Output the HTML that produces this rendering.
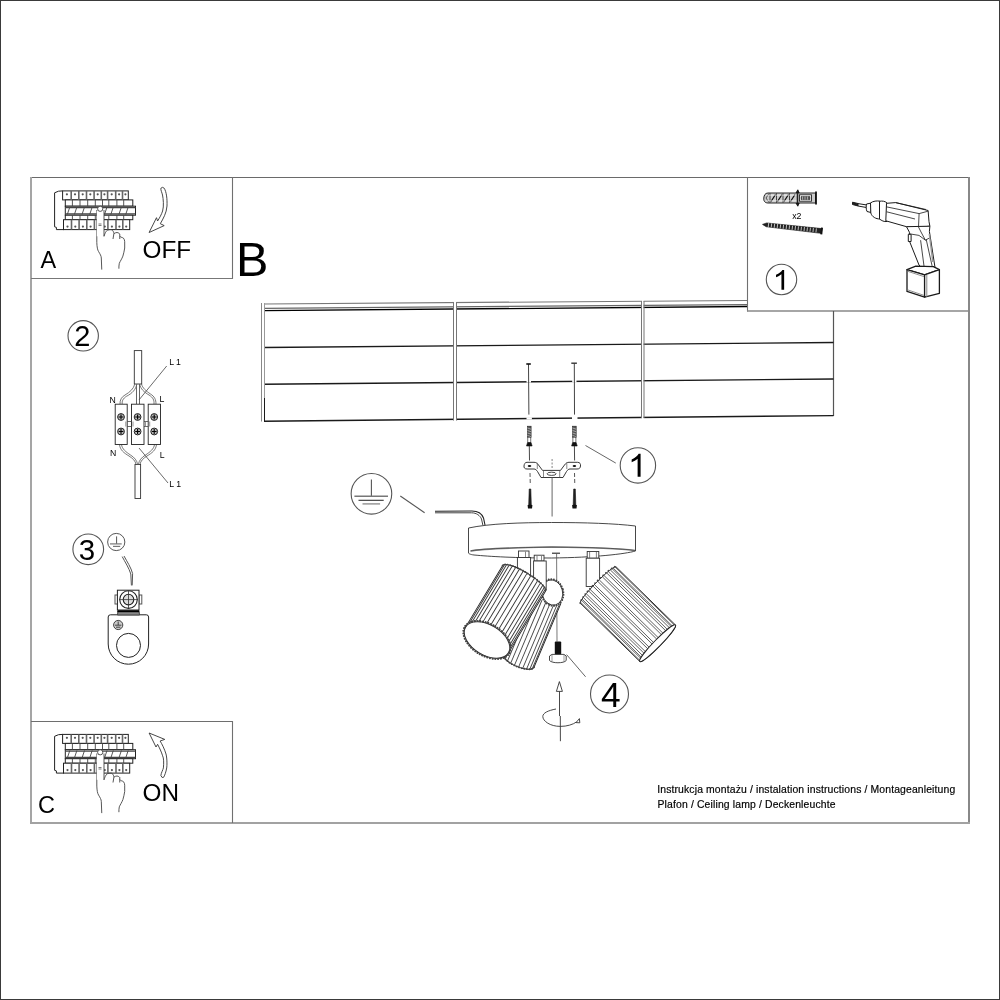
<!DOCTYPE html>
<html><head><meta charset="utf-8"><style>
html,body{margin:0;padding:0;background:#fff;width:1000px;height:1000px;overflow:hidden}
svg{position:absolute;left:0;top:0;display:block;filter:grayscale(1)}
text{font-family:"Liberation Sans",sans-serif;fill:#000}
</style></head><body>
<svg width="1000" height="1000" viewBox="0 0 1000 1000" fill="none" stroke-linecap="butt">
<!-- outer border -->
<rect x="0.5" y="0.5" width="999" height="999" stroke="#3a3a3a" stroke-width="1"/>
<!-- main frame -->
<line x1="30" y1="177.5" x2="970" y2="177.5" stroke="#6a6a6a" stroke-width="1.2"/>
<line x1="31" y1="177" x2="31" y2="824" stroke="#a5a5a5" stroke-width="2"/>
<line x1="969" y1="177" x2="969" y2="824" stroke="#888" stroke-width="2"/>
<line x1="30" y1="823" x2="970" y2="823" stroke="#a2a2a2" stroke-width="2"/>
<!-- panel A -->
<line x1="232.5" y1="177" x2="232.5" y2="279" stroke="#707070" stroke-width="1.1"/>
<line x1="31" y1="278.5" x2="233" y2="278.5" stroke="#777" stroke-width="1.1"/>
<!-- panel C -->
<line x1="31" y1="721.5" x2="233" y2="721.5" stroke="#6e6e6e" stroke-width="1.1"/>
<line x1="232.5" y1="721" x2="232.5" y2="823" stroke="#707070" stroke-width="1.1"/>
<!-- panel 1 -->
<line x1="747.5" y1="177" x2="747.5" y2="311.5" stroke="#707070" stroke-width="1.1"/>
<line x1="747" y1="311" x2="969" y2="311" stroke="#888" stroke-width="1.5"/>


<!-- ceiling -->
<g id="ceiling" stroke="#1a1a1a" stroke-width="1.4">
<line x1="264.5" y1="397" x2="264.5" y2="421.5" stroke-width="1"/>
<line x1="833.5" y1="311" x2="833.5" y2="416" stroke="#555" stroke-width="1.2"/>
<line x1="264" y1="304" x2="747" y2="300.5" stroke="#777" stroke-width="1.2"/>
<line x1="264" y1="308.3" x2="747" y2="304.6" stroke="#666" stroke-width="1.2"/>
<line x1="264" y1="310.6" x2="747" y2="306.5" stroke="#000" stroke-width="1.3"/>
<line x1="264" y1="347.5" x2="833.5" y2="342.5"/>
<line x1="264" y1="384.3" x2="833.5" y2="379"/>
<line x1="264" y1="421.2" x2="833.5" y2="415.6"/>

<rect x="454" y="299" width="2" height="123" fill="#fff" stroke="none"/><rect x="642" y="298" width="1.6" height="122" fill="#fff" stroke="none"/>
<line x1="261.5" y1="303" x2="261.5" y2="421.5" stroke="#888" stroke-width="1"/>
<line x1="264.5" y1="303" x2="264.5" y2="398" stroke="#999" stroke-width="1"/>
<line x1="453.5" y1="302" x2="453.5" y2="420.5" stroke="#777" stroke-width="1"/>
<line x1="456.5" y1="302" x2="456.5" y2="420.5" stroke="#777" stroke-width="1"/>
<line x1="641.5" y1="301" x2="641.5" y2="418" stroke="#777" stroke-width="1"/>
<line x1="644" y1="301" x2="644" y2="418" stroke="#777" stroke-width="1"/>
</g>
<g stroke="#fff" stroke-width="2.2">
<line x1="526.5" y1="381.5" x2="531" y2="381.5"/>
<line x1="526.5" y1="418.4" x2="531.9" y2="418.4"/>
<line x1="572.2" y1="381" x2="576.5" y2="381"/>
<line x1="572" y1="418" x2="577.5" y2="418"/>
</g>
<g id="holes" stroke="#444" stroke-width="1">
<line x1="528.5" y1="364" x2="528.9" y2="414.6"/>
<line x1="526.3" y1="364" x2="530.8" y2="364" stroke="#111" stroke-width="1.6"/>
<line x1="574.3" y1="363.3" x2="574.5" y2="414.6"/>
<line x1="571.3" y1="363.2" x2="576.9" y2="363.2" stroke="#333" stroke-width="1.4"/>
</g>



<!-- numbered circles -->
<g stroke="#555" stroke-width="1.1">
<circle cx="781.5" cy="279.5" r="15.2"/>
<circle cx="637.9" cy="465.45" r="17.7"/>
<circle cx="83.2" cy="335.8" r="15.2"/>
<circle cx="88.25" cy="549.3" r="15.35"/>
<circle cx="609.5" cy="694" r="19"/>
</g>
<g font-size="28.7" text-anchor="middle">
<text x="82.2" y="346.2" font-size="29">2</text>
<text x="86.9" y="560.4" font-size="29.5">3</text>
<text x="610.7" y="706.9" font-size="35.3">4</text>
</g>
<path d="M763,0 L583,0 L583,1147 Q518,1085 412,1023 Q306,961 222,930 L222,1104 Q373,1175 486,1276 Q599,1377 646,1472 L763,1472 Z" fill="#000" transform="translate(772.7,289.7) scale(0.0150,-0.01345)"/>
<path d="M763,0 L583,0 L583,1147 Q518,1085 412,1023 Q306,961 222,930 L222,1104 Q373,1175 486,1276 Q599,1377 646,1472 L763,1472 Z" fill="#000" transform="translate(628.0,476.85) scale(0.0165,-0.01569)"/>
<!-- ground symbol big -->
<g stroke="#555" stroke-width="1.1">
<circle cx="371.45" cy="493.8" r="20.3"/>
<line x1="371.4" y1="479.4" x2="371.4" y2="496"/>
<line x1="354.4" y1="496.2" x2="388" y2="496.2" stroke-width="1.4" stroke="#777"/>
<line x1="358.5" y1="500.3" x2="383.7" y2="500.3" stroke="#333"/>
<line x1="362.5" y1="503.9" x2="380.1" y2="503.9" stroke="#888" stroke-width="1.3"/>
<line x1="400.3" y1="496" x2="424.6" y2="512.7"/>
</g>
<!-- ground symbol small -->
<g stroke="#555" stroke-width="1">
<circle cx="116.25" cy="542" r="8.6"/>
<line x1="116.6" y1="536.4" x2="116.6" y2="543.9"/>
<line x1="110" y1="543.9" x2="121.7" y2="543.9" stroke="#777" stroke-width="1.2"/>
<line x1="113" y1="546.4" x2="120.2" y2="546.4" stroke="#777" stroke-width="1.2"/>
</g>


<!-- panel A drawing -->
<g id="panelA">
<g id="brk" stroke="#222" stroke-width="1" fill="#fff">
<path d="M62.6,190.9 L58.5,191.2 L54.6,192.8 L54.6,226.8 L56.4,227.4 L56.4,229.6 L64,229.6"/>
<rect x="62.6" y="190.9" width="65.7" height="9"/>
<rect x="65.3" y="199.9" width="67.5" height="6.3"/>
<rect x="65.3" y="206.2" width="70.2" height="9"/>
<rect x="65.3" y="215.2" width="67.5" height="4.5"/>
<rect x="63.5" y="219.7" width="66.2" height="9.9"/>
</g>
<g stroke="#444" stroke-width="0.9">
<line x1="71.2" y1="190.9" x2="71.2" y2="199.9" stroke="#666" stroke-width="1.6"/>
<line x1="72.4" y1="199.9" x2="72.4" y2="206.2"/>
<line x1="72.4" y1="215.2" x2="72.4" y2="219.7"/>
<line x1="71.5" y1="219.7" x2="71.5" y2="229.6" stroke="#666" stroke-width="1.6"/>
<line x1="78.8" y1="190.9" x2="78.8" y2="199.9" stroke="#666" stroke-width="1.6"/>
<line x1="80.0" y1="199.9" x2="80.0" y2="206.2"/>
<line x1="80.0" y1="215.2" x2="80.0" y2="219.7"/>
<line x1="79.1" y1="219.7" x2="79.1" y2="229.6" stroke="#666" stroke-width="1.6"/>
<line x1="86.5" y1="190.9" x2="86.5" y2="199.9" stroke="#666" stroke-width="1.6"/>
<line x1="87.7" y1="199.9" x2="87.7" y2="206.2"/>
<line x1="87.7" y1="215.2" x2="87.7" y2="219.7"/>
<line x1="86.8" y1="219.7" x2="86.8" y2="229.6" stroke="#666" stroke-width="1.6"/>
<line x1="94.1" y1="190.9" x2="94.1" y2="199.9" stroke="#666" stroke-width="1.6"/>
<line x1="95.3" y1="199.9" x2="95.3" y2="206.2"/>
<line x1="95.3" y1="215.2" x2="95.3" y2="219.7"/>
<line x1="94.39999999999999" y1="219.7" x2="94.39999999999999" y2="229.6" stroke="#666" stroke-width="1.6"/>
<line x1="101.3" y1="190.9" x2="101.3" y2="199.9" stroke="#666" stroke-width="1.6"/>
<line x1="102.5" y1="199.9" x2="102.5" y2="206.2"/>
<line x1="102.5" y1="215.2" x2="102.5" y2="219.7"/>
<line x1="101.6" y1="219.7" x2="101.6" y2="229.6" stroke="#666" stroke-width="1.6"/>
<line x1="107.6" y1="190.9" x2="107.6" y2="199.9" stroke="#666" stroke-width="1.6"/>
<line x1="108.8" y1="199.9" x2="108.8" y2="206.2"/>
<line x1="108.8" y1="215.2" x2="108.8" y2="219.7"/>
<line x1="107.89999999999999" y1="219.7" x2="107.89999999999999" y2="229.6" stroke="#666" stroke-width="1.6"/>
<line x1="115.7" y1="190.9" x2="115.7" y2="199.9" stroke="#666" stroke-width="1.6"/>
<line x1="116.9" y1="199.9" x2="116.9" y2="206.2"/>
<line x1="116.9" y1="215.2" x2="116.9" y2="219.7"/>
<line x1="116.0" y1="219.7" x2="116.0" y2="229.6" stroke="#666" stroke-width="1.6"/>
<line x1="122.5" y1="190.9" x2="122.5" y2="199.9" stroke="#666" stroke-width="1.6"/>
<line x1="123.7" y1="199.9" x2="123.7" y2="206.2"/>
<line x1="123.7" y1="215.2" x2="123.7" y2="219.7"/>
<line x1="122.8" y1="219.7" x2="122.8" y2="229.6" stroke="#666" stroke-width="1.6"/>
<line x1="67.3" y1="214.5" x2="69.8" y2="207"/>
<line x1="74.4" y1="214.5" x2="76.9" y2="207"/>
<line x1="82.0" y1="214.5" x2="84.5" y2="207"/>
<line x1="89.7" y1="214.5" x2="92.2" y2="207"/>
<line x1="97.3" y1="214.5" x2="99.8" y2="207"/>
<line x1="104.5" y1="214.5" x2="107.0" y2="207"/>
<line x1="110.8" y1="214.5" x2="113.3" y2="207"/>
<line x1="118.9" y1="214.5" x2="121.4" y2="207"/>
<line x1="125.7" y1="214.5" x2="128.2" y2="207"/>
<line x1="65.3" y1="207.6" x2="135.5" y2="207.6" stroke="#444" stroke-width="1.3"/>
<line x1="65.3" y1="213.8" x2="135.5" y2="213.8" stroke="#444" stroke-width="1.3"/>
<circle cx="66.9" cy="194.3" r="1.1" fill="#555" stroke="none"/>
<circle cx="75.0" cy="194.3" r="1.1" fill="#555" stroke="none"/>
<circle cx="82.7" cy="194.3" r="1.1" fill="#555" stroke="none"/>
<circle cx="90.3" cy="194.3" r="1.1" fill="#555" stroke="none"/>
<circle cx="97.7" cy="194.3" r="1.1" fill="#555" stroke="none"/>
<circle cx="104.4" cy="194.3" r="1.1" fill="#555" stroke="none"/>
<circle cx="111.7" cy="194.3" r="1.1" fill="#555" stroke="none"/>
<circle cx="119.1" cy="194.3" r="1.1" fill="#555" stroke="none"/>
<circle cx="125.4" cy="194.3" r="1.1" fill="#555" stroke="none"/>
<circle cx="67.5" cy="226.6" r="1.1" fill="#555" stroke="none"/>
<circle cx="75.3" cy="226.6" r="1.1" fill="#555" stroke="none"/>
<circle cx="82.9" cy="226.6" r="1.1" fill="#555" stroke="none"/>
<circle cx="90.6" cy="226.6" r="1.1" fill="#555" stroke="none"/>
<circle cx="98.0" cy="226.6" r="1.1" fill="#555" stroke="none"/>
<circle cx="104.8" cy="226.6" r="1.1" fill="#555" stroke="none"/>
<circle cx="111.9" cy="226.6" r="1.1" fill="#555" stroke="none"/>
<circle cx="119.4" cy="226.6" r="1.1" fill="#555" stroke="none"/>
<circle cx="126.2" cy="226.6" r="1.1" fill="#555" stroke="none"/>
</g>
<g id="hand" stroke="#444" stroke-width="0.9" fill="#fff">
<path d="M96.8,210 L96.8,242.6 C97,247 97.5,250 98.6,251.6 C100,254 101.3,256 101.3,258 L101.75,269.6" fill="none"/>
<path d="M96.8,211 L104,211 L104,236.3 L96.8,236.3 Z" stroke="none"/>
<path d="M104,210 L104,236.3 C104.5,234.5 105.4,232.7 105.4,232.7 C106.3,231 107,230.3 108,230 C109.5,229.5 110.5,229.6 111.2,229.6 C112.2,230 113,230.9 113,230.9 C113.6,231.8 113.9,233.6 113.9,233.6 L113,239 M113.9,233.6 C115,233 116,232.5 117,232.5 C118.5,232.8 119.3,233.3 119.75,234 L119.75,239 M119.75,236 C120.5,237 121.1,237.2 121.1,237.2 C122,237.5 122.8,237.6 123.4,238.1 C124.3,239 124.7,240.5 124.7,241.7 L124.7,248 C124.3,251 123.6,253.5 122.9,256.1 C121.8,259 120.3,261 119.3,263.3 C118.9,265 118.9,267 118.9,268.7" fill="none"/>
<circle cx="100.2" cy="208.8" r="2.6"/>
<line x1="98.5" y1="224" x2="101.5" y2="224" stroke-width="0.7"/>
<line x1="98.5" y1="225.5" x2="101.5" y2="225.5" stroke-width="0.7"/>
</g>
</g>
<g transform="translate(0,543.5)">
<g stroke="#222" stroke-width="1" fill="#fff">
<path d="M62.6,190.9 L58.5,191.2 L54.6,192.8 L54.6,226.8 L56.4,227.4 L56.4,229.6 L64,229.6"/>
<rect x="62.6" y="190.9" width="65.7" height="9"/>
<rect x="65.3" y="199.9" width="67.5" height="6.3"/>
<rect x="65.3" y="206.2" width="70.2" height="9"/>
<rect x="65.3" y="215.2" width="67.5" height="4.5"/>
<rect x="63.5" y="219.7" width="66.2" height="9.9"/>
</g>
<g stroke="#444" stroke-width="0.9">
<line x1="71.2" y1="190.9" x2="71.2" y2="199.9" stroke="#666" stroke-width="1.6"/>
<line x1="72.4" y1="199.9" x2="72.4" y2="206.2"/>
<line x1="72.4" y1="215.2" x2="72.4" y2="219.7"/>
<line x1="71.5" y1="219.7" x2="71.5" y2="229.6" stroke="#666" stroke-width="1.6"/>
<line x1="78.8" y1="190.9" x2="78.8" y2="199.9" stroke="#666" stroke-width="1.6"/>
<line x1="80.0" y1="199.9" x2="80.0" y2="206.2"/>
<line x1="80.0" y1="215.2" x2="80.0" y2="219.7"/>
<line x1="79.1" y1="219.7" x2="79.1" y2="229.6" stroke="#666" stroke-width="1.6"/>
<line x1="86.5" y1="190.9" x2="86.5" y2="199.9" stroke="#666" stroke-width="1.6"/>
<line x1="87.7" y1="199.9" x2="87.7" y2="206.2"/>
<line x1="87.7" y1="215.2" x2="87.7" y2="219.7"/>
<line x1="86.8" y1="219.7" x2="86.8" y2="229.6" stroke="#666" stroke-width="1.6"/>
<line x1="94.1" y1="190.9" x2="94.1" y2="199.9" stroke="#666" stroke-width="1.6"/>
<line x1="95.3" y1="199.9" x2="95.3" y2="206.2"/>
<line x1="95.3" y1="215.2" x2="95.3" y2="219.7"/>
<line x1="94.39999999999999" y1="219.7" x2="94.39999999999999" y2="229.6" stroke="#666" stroke-width="1.6"/>
<line x1="101.3" y1="190.9" x2="101.3" y2="199.9" stroke="#666" stroke-width="1.6"/>
<line x1="102.5" y1="199.9" x2="102.5" y2="206.2"/>
<line x1="102.5" y1="215.2" x2="102.5" y2="219.7"/>
<line x1="101.6" y1="219.7" x2="101.6" y2="229.6" stroke="#666" stroke-width="1.6"/>
<line x1="107.6" y1="190.9" x2="107.6" y2="199.9" stroke="#666" stroke-width="1.6"/>
<line x1="108.8" y1="199.9" x2="108.8" y2="206.2"/>
<line x1="108.8" y1="215.2" x2="108.8" y2="219.7"/>
<line x1="107.89999999999999" y1="219.7" x2="107.89999999999999" y2="229.6" stroke="#666" stroke-width="1.6"/>
<line x1="115.7" y1="190.9" x2="115.7" y2="199.9" stroke="#666" stroke-width="1.6"/>
<line x1="116.9" y1="199.9" x2="116.9" y2="206.2"/>
<line x1="116.9" y1="215.2" x2="116.9" y2="219.7"/>
<line x1="116.0" y1="219.7" x2="116.0" y2="229.6" stroke="#666" stroke-width="1.6"/>
<line x1="122.5" y1="190.9" x2="122.5" y2="199.9" stroke="#666" stroke-width="1.6"/>
<line x1="123.7" y1="199.9" x2="123.7" y2="206.2"/>
<line x1="123.7" y1="215.2" x2="123.7" y2="219.7"/>
<line x1="122.8" y1="219.7" x2="122.8" y2="229.6" stroke="#666" stroke-width="1.6"/>
<line x1="67.3" y1="214.5" x2="69.8" y2="207"/>
<line x1="74.4" y1="214.5" x2="76.9" y2="207"/>
<line x1="82.0" y1="214.5" x2="84.5" y2="207"/>
<line x1="89.7" y1="214.5" x2="92.2" y2="207"/>
<line x1="97.3" y1="214.5" x2="99.8" y2="207"/>
<line x1="104.5" y1="214.5" x2="107.0" y2="207"/>
<line x1="110.8" y1="214.5" x2="113.3" y2="207"/>
<line x1="118.9" y1="214.5" x2="121.4" y2="207"/>
<line x1="125.7" y1="214.5" x2="128.2" y2="207"/>
<line x1="65.3" y1="207.6" x2="135.5" y2="207.6" stroke="#444" stroke-width="1.3"/>
<line x1="65.3" y1="213.8" x2="135.5" y2="213.8" stroke="#444" stroke-width="1.3"/>
<circle cx="66.9" cy="194.3" r="1.1" fill="#555" stroke="none"/>
<circle cx="75.0" cy="194.3" r="1.1" fill="#555" stroke="none"/>
<circle cx="82.7" cy="194.3" r="1.1" fill="#555" stroke="none"/>
<circle cx="90.3" cy="194.3" r="1.1" fill="#555" stroke="none"/>
<circle cx="97.7" cy="194.3" r="1.1" fill="#555" stroke="none"/>
<circle cx="104.4" cy="194.3" r="1.1" fill="#555" stroke="none"/>
<circle cx="111.7" cy="194.3" r="1.1" fill="#555" stroke="none"/>
<circle cx="119.1" cy="194.3" r="1.1" fill="#555" stroke="none"/>
<circle cx="125.4" cy="194.3" r="1.1" fill="#555" stroke="none"/>
<circle cx="67.5" cy="226.6" r="1.1" fill="#555" stroke="none"/>
<circle cx="75.3" cy="226.6" r="1.1" fill="#555" stroke="none"/>
<circle cx="82.9" cy="226.6" r="1.1" fill="#555" stroke="none"/>
<circle cx="90.6" cy="226.6" r="1.1" fill="#555" stroke="none"/>
<circle cx="98.0" cy="226.6" r="1.1" fill="#555" stroke="none"/>
<circle cx="104.8" cy="226.6" r="1.1" fill="#555" stroke="none"/>
<circle cx="111.9" cy="226.6" r="1.1" fill="#555" stroke="none"/>
<circle cx="119.4" cy="226.6" r="1.1" fill="#555" stroke="none"/>
<circle cx="126.2" cy="226.6" r="1.1" fill="#555" stroke="none"/>
</g>
<g stroke="#444" stroke-width="0.9" fill="#fff">
<path d="M96.8,210 L96.8,242.6 C97,247 97.5,250 98.6,251.6 C100,254 101.3,256 101.3,258 L101.75,269.6" fill="none"/>
<path d="M96.8,211 L104,211 L104,236.3 L96.8,236.3 Z" stroke="none"/>
<path d="M104,210 L104,236.3 C104.5,234.5 105.4,232.7 105.4,232.7 C106.3,231 107,230.3 108,230 C109.5,229.5 110.5,229.6 111.2,229.6 C112.2,230 113,230.9 113,230.9 C113.6,231.8 113.9,233.6 113.9,233.6 L113,239 M113.9,233.6 C115,233 116,232.5 117,232.5 C118.5,232.8 119.3,233.3 119.75,234 L119.75,239 M119.75,236 C120.5,237 121.1,237.2 121.1,237.2 C122,237.5 122.8,237.6 123.4,238.1 C124.3,239 124.7,240.5 124.7,241.7 L124.7,248 C124.3,251 123.6,253.5 122.9,256.1 C121.8,259 120.3,261 119.3,263.3 C118.9,265 118.9,267 118.9,268.7" fill="none"/>
<circle cx="100.2" cy="208.8" r="2.6"/>
<line x1="98.5" y1="224" x2="101.5" y2="224" stroke-width="0.7"/>
<line x1="98.5" y1="225.5" x2="101.5" y2="225.5" stroke-width="0.7"/>
</g>
</g>
<path d="M160.9,188.2 Q162.5,186.5 164.2,188.2 C166.5,192 167.3,199 167,206 C166.6,213 163,219 160.3,223.7 L164.2,225.6 L149.1,232.5 L156.5,217.7 L157.6,221 C159.5,218 161.5,214.5 162.6,211 C164,206 163.3,199 162.5,195 C162,192.5 160.5,190 160.9,188.2 Z" stroke="#333" stroke-width="0.9"/>
<path d="M149.1,733 L164.75,739.4 L160.1,741 C162,744 164.5,749 166,754 C167.3,759 167,766 166.7,768 C166,772 164.5,776 163.6,777.3 Q162,778.5 160.9,775.6 C161,773 163,770 163.4,767.9 C163.9,763 163.8,758 162.6,755.8 C161.5,752 159.5,748 157.6,744.3 L156,747 Z" stroke="#333" stroke-width="0.9"/>


<!-- step 2 wiring -->
<g id="step2" stroke="#333" stroke-width="0.9">
<rect x="134.3" y="350.6" width="7.4" height="33.4" fill="#fff"/>
<rect x="135" y="464.5" width="5.6" height="34" fill="#fff"/>
<!-- upper wires (double) -->
<g stroke="#555" stroke-width="0.8">
<path d="M134.8,384 C133.5,389 130,392 125,395 C121.5,397 119.8,400 120,404.2"/>
<path d="M136.8,384 C136,389.5 132,393.5 126.5,396.3 C123,398.5 121.8,401 122.2,404.2"/>
<path d="M136.5,384 L136.5,404.2 M139.5,384 L139.5,404.2" stroke="#666" stroke-width="1"/>
<path d="M139.7,384 C140.5,389 144,392 149,395 C153,397.5 154.3,400 154,404.2"/>
<path d="M141.5,384 C142.5,388 146,391 150.5,394 C154.5,396.5 156,399.5 156,404.2"/>
<!-- lower wires -->
<path d="M119.5,444.5 C120,450 124,453 129,456 C133,458.5 135.5,461 136,464.5"/>
<path d="M121.5,444.5 C122,449 126,452 130.5,455 C134.5,457.5 137,460.5 137.6,464.5"/>
<path d="M156.5,444.5 C156,450 152,453 147,456 C143,458.5 140.5,461 140,464.5"/>
<path d="M154.5,444.5 C154,449 150,452 145.5,455 C141.5,457.5 139,460.5 138.4,464.5"/>
</g>
<g fill="#fff" stroke="#222" stroke-width="0.9">
<rect x="115.2" y="404.2" width="12" height="40.3"/>
<rect x="131.5" y="404.2" width="12.5" height="40.3"/>
<rect x="148.2" y="404.2" width="12.3" height="40.3"/>
</g>
<g stroke="#444" stroke-width="0.8" fill="#fff">
<path d="M127.2,421.5 L131.5,421.5 M127.2,426.5 L131.5,426.5 M144,421.5 L148.2,421.5 M144,426.5 L148.2,426.5"/>
<path d="M125.8,421.5 L125.8,426.5 M133,421.5 L133,426.5 M145.5,421.5 L145.5,426.5 M149.7,421.5 L149.7,426.5" stroke="#777"/>
</g>
<g fill="#bbb" stroke="#222" stroke-width="1">
<circle cx="121" cy="417" r="3.4"/><circle cx="121" cy="431.5" r="3.4"/>
<circle cx="137.6" cy="417" r="3.4"/><circle cx="137.6" cy="431.5" r="3.4"/>
<circle cx="154.2" cy="417" r="3.4"/><circle cx="154.2" cy="431.5" r="3.4"/>
</g>
<g stroke="#000" stroke-width="1.1">
<path d="M118.6,417 h4.8 M121,414.6 v4.8 M118.6,431.5 h4.8 M121,429.1 v4.8"/>
<path d="M135.2,417 h4.8 M137.6,414.6 v4.8 M135.2,431.5 h4.8 M137.6,429.1 v4.8"/>
<path d="M151.8,417 h4.8 M154.2,414.6 v4.8 M151.8,431.5 h4.8 M154.2,429.1 v4.8"/>
</g>
<line x1="166.7" y1="366" x2="139.1" y2="399.8" stroke="#444" stroke-width="0.8"/>
<line x1="139" y1="448" x2="168" y2="483" stroke="#444" stroke-width="0.8"/>
</g>
<g font-size="8.7" fill="#222">
<text x="109.6" y="403">N</text>
<text x="159.5" y="401.5">L</text>
<text x="169.2" y="364.6">L 1</text>
<text x="109.9" y="455.8">N</text>
<text x="159.7" y="457.6">L</text>
<text x="169.3" y="486.7">L 1</text>
</g>
<!-- step 3 lug -->
<g id="step3" stroke="#222" stroke-width="1">
<path d="M122.2,556.6 C125,562 129,568 130.8,574 L131.4,585.4" stroke="#555"/>
<path d="M124,556 C127,561.5 131,567.5 132.6,573.5 L132.2,585.4" stroke="#555"/>
<path d="M110.5,614.8 L146.3,614.8 Q148.6,614.8 148.6,617 L148.6,644 A20.2,20.2 0 0 1 108.2,644 L108.2,617 Q108.2,614.8 110.5,614.8 Z" fill="#fff"/>
<circle cx="128.5" cy="645.4" r="12" fill="#fff"/>
<path d="M118,610.6 L139,610.6 L139.5,615 L117.5,615 Z" fill="#888" stroke="#444"/>
<line x1="117.4" y1="611.3" x2="139" y2="611.3" stroke="#000" stroke-width="1.8"/>
<rect x="115" y="595" width="2.6" height="9" fill="#fff" stroke="#555"/>
<rect x="139" y="595" width="2.8" height="9" fill="#fff" stroke="#555"/>
<rect x="117.4" y="590.2" width="21.6" height="19.8" fill="#fff"/>
<circle cx="128.5" cy="599.6" r="8.8" fill="#fff" stroke="#222" stroke-width="1.1"/>
<circle cx="128.5" cy="599.6" r="5.3" fill="#ddd" stroke="#222" stroke-width="1.1"/>
<path d="M128.5,590.5 V608.5 M119.2,599.6 H137.8" stroke="#333" stroke-width="0.8"/>
<circle cx="118.2" cy="625" r="4.6" fill="#ccc" stroke="#444"/>
<path d="M118.2,621.5 V625 M115,625.2 H121.4 M116,627.2 H120.4" stroke="#222" stroke-width="0.8"/>
</g>


<!-- plugs, bracket, screws -->
<g>
<rect x="527.5" y="426.2" width="3.6" height="11" fill="#555" stroke="#222" stroke-width="0.6"/>
<path d="M527.5,428 l3.6,1.2 M527.5,430.5 l3.6,1.2 M527.5,433 l3.6,1.2 M527.5,435.5 l3.6,1.2" stroke="#ddd" stroke-width="0.6"/>
<rect x="527.8" y="437.2" width="3" height="5.5" fill="#fff" stroke="#333" stroke-width="0.7"/>
<path d="M527.5,442.7 L531.0999999999999,442.7 L532.0999999999999,446 L526.5,446 Z" fill="#111" stroke="#111" stroke-width="0.6"/>
<line x1="529.3" y1="446" x2="529.5" y2="460.5" stroke="#333" stroke-width="0.9"/>
</g><g>
<rect x="572.6" y="426.2" width="3.6" height="11" fill="#555" stroke="#222" stroke-width="0.6"/>
<path d="M572.6,428 l3.6,1.2 M572.6,430.5 l3.6,1.2 M572.6,433 l3.6,1.2 M572.6,435.5 l3.6,1.2" stroke="#ddd" stroke-width="0.6"/>
<rect x="572.9" y="437.2" width="3" height="5.5" fill="#fff" stroke="#333" stroke-width="0.7"/>
<path d="M572.6,442.7 L576.1999999999999,442.7 L577.1999999999999,446 L571.6,446 Z" fill="#111" stroke="#111" stroke-width="0.6"/>
<line x1="574.4" y1="446" x2="574.6" y2="460.5" stroke="#333" stroke-width="0.9"/>
</g>
<g stroke="#222" stroke-width="0.9" fill="#fff">
<path d="M527,462.3 L534,462.3 C536,462.3 537,463 538.5,465 L542.5,470.4 L560.5,470.4 L564.5,465 C566,463 567,462.3 569,462.3 L577.5,462.3 C580,462.3 580.8,464 580.5,466 C580.2,468 579.5,469 577,469 L570,469 C568.5,469 567.5,470 566.5,471.5 L563,477.5 L541,477.5 L537.5,471.5 C536.5,470 535.5,469 534,469 L527,469 C524.5,469 523.8,467.5 524,466 C524.2,464 525,462.3 527,462.3 Z"/>
<path d="M537.3,462.8 L537.3,469 M566.8,462.8 L566.8,469 M543.5,470.4 L543.5,477.5 M559.7,470.4 L559.7,477.5" stroke="#555" stroke-width="0.7"/>
<ellipse cx="551.6" cy="473.8" rx="4.5" ry="1.6" fill="#fff" stroke="#333"/>
<ellipse cx="529.5" cy="466" rx="1.8" ry="0.9" fill="#111" stroke="none"/>
<ellipse cx="574.4" cy="466" rx="1.8" ry="0.9" fill="#111" stroke="none"/>
</g>
<g>
<line x1="530" y1="473" x2="530.3" y2="485" stroke="#444" stroke-width="0.9" stroke-dasharray="4,2"/>
<path d="M529.2,489 L530.8,489 L531.3,505 L528.7,505 Z" fill="#222" stroke="#111" stroke-width="0.6"/>
<path d="M527.6,505 L532.4,505 L532,508.4 L528,508.4 Z" fill="#111"/>
</g><g>
<line x1="574.5" y1="473" x2="574.8" y2="485" stroke="#444" stroke-width="0.9" stroke-dasharray="4,2"/>
<path d="M573.7,489 L575.3,489 L575.8,505 L573.2,505 Z" fill="#222" stroke="#111" stroke-width="0.6"/>
<path d="M572.1,505 L576.9,505 L576.5,508.4 L572.5,508.4 Z" fill="#111"/>
</g>
<line x1="552.1" y1="459" x2="552.1" y2="468" stroke="#666" stroke-width="0.8" stroke-dasharray="2,1.5"/>
<line x1="552.1" y1="477.5" x2="552.1" y2="516.5" stroke="#555" stroke-width="0.9"/>
<line x1="585.5" y1="445.5" x2="615.8" y2="463.1" stroke="#555" stroke-width="0.9"/>

<!-- LAMP -->
<path d="M435,511.2 L472,511 C478,511 482,514 483.5,518 L485,525" stroke="#222" stroke-width="1.1" fill="none"/>
<path d="M435,512.8 L471.5,512.8 C476.5,512.8 480,515.5 481.5,519 L482.9,525.3" stroke="#444" stroke-width="1" fill="none"/>
<g stroke="#333" stroke-width="0.9" fill="#fff">
<path d="M468.5,528 C490,523.5 520,522.6 551.5,522.5 C585,522.5 615,523.5 635.5,526 L635.5,551 C625,554 595,557.5 551.5,558 C515,558 490,556.5 474,555 C470,554.5 468.5,553.5 468.5,553 Z"/>
<path d="M470.5,551 C480,549 500,548 551.5,547 C600,547.5 620,548.5 635,550.5" fill="none" stroke="#888" stroke-width="1.6"/>
<path d="M470.5,551 C480,549 500,548 551.5,547 C600,547.5 620,548.5 635,550.5" fill="none" stroke="#333" stroke-width="0.6"/>
</g>
<line x1="552" y1="553.2" x2="560" y2="553.2" stroke="#222" stroke-width="1.1"/>
<line x1="556.6" y1="553.2" x2="557" y2="641.5" stroke="#555" stroke-width="0.8"/>
<g stroke="#333" stroke-width="0.9" fill="#fff">
<rect x="518.5" y="551" width="10.5" height="6.5"/>
<line x1="525.5" y1="551.5" x2="525.5" y2="557.5" stroke="#777"/>
<rect x="517.4" y="557.5" width="13.2" height="20"/>
</g>
<g transform="translate(518.8,660.8) rotate(-67.12993673176197)">
<path d="M0,-16.5 L68.7006550187114,-16.5 A4,16.5 0 0 1 68.7006550187114,16.5 L0,16.5 A6,16.5 0 0 1 0,-16.5 Z" fill="#fff" stroke="#222" stroke-width="0.9"/>
<line x1="-2.05" y1="-15.50" x2="67.33" y2="-15.50" stroke="#444" stroke-width="0.9"/>
<line x1="-3.49" y1="-13.42" x2="66.37" y2="-13.42" stroke="#444" stroke-width="0.9"/>
<line x1="-4.67" y1="-10.36" x2="65.59" y2="-10.36" stroke="#444" stroke-width="0.9"/>
<line x1="-5.51" y1="-6.54" x2="65.03" y2="-6.54" stroke="#444" stroke-width="0.9"/>
<line x1="-5.94" y1="-2.23" x2="64.74" y2="-2.23" stroke="#444" stroke-width="0.9"/>
<line x1="-5.94" y1="2.23" x2="64.74" y2="2.23" stroke="#444" stroke-width="0.9"/>
<line x1="-5.51" y1="6.54" x2="65.03" y2="6.54" stroke="#444" stroke-width="0.9"/>
<line x1="-4.67" y1="10.36" x2="65.59" y2="10.36" stroke="#444" stroke-width="0.9"/>
<line x1="-3.49" y1="13.42" x2="66.37" y2="13.42" stroke="#444" stroke-width="0.9"/>
<line x1="-2.05" y1="15.50" x2="67.33" y2="15.50" stroke="#444" stroke-width="0.9"/>
</g>
<g transform="translate(518.8,660.8) rotate(-67.13)"><path d="M0,16.5 A6,16.5 0 0 1 0,-16.5" fill="none" stroke="#444" stroke-width="1.9" stroke-linecap="round" stroke-dasharray="0.01,2.6"/></g>
<ellipse cx="552.3" cy="592.5" rx="10.3" ry="12.8" transform="rotate(-15 552.3 592.5)" fill="#fff" stroke="#333" stroke-width="0.9"/>
<ellipse cx="552.3" cy="592.5" rx="11" ry="13.5" transform="rotate(-15 552.3 592.5)" fill="none" stroke="#444" stroke-width="2" stroke-linecap="round" stroke-dasharray="0.01,2.6"/>
<g stroke="#333" stroke-width="0.9" fill="#fff">
<rect x="534.2" y="555.2" width="9.8" height="5.8"/>
<line x1="537" y1="555.5" x2="537" y2="561" stroke="#777"/>
<line x1="541.5" y1="555.5" x2="541.5" y2="561" stroke="#777"/>
<rect x="533.6" y="561" width="12.6" height="28.8"/>
</g>
<g transform="translate(487,640) rotate(-59)">
<path d="M0,-25 L72,-25 A6,25 0 0 1 72,25 L0,25 A15,25 0 0 1 0,-25 Z" fill="#fff" stroke="#222" stroke-width="0.9"/>
<line x1="4.64" y1="-23.78" x2="73.85" y2="-23.78" stroke="#333" stroke-width="0.9"/>
<line x1="7.11" y1="-22.01" x2="74.84" y2="-22.01" stroke="#333" stroke-width="0.9"/>
<line x1="9.35" y1="-19.55" x2="75.74" y2="-19.55" stroke="#333" stroke-width="0.9"/>
<line x1="11.30" y1="-16.45" x2="76.52" y2="-16.45" stroke="#333" stroke-width="0.9"/>
<line x1="12.88" y1="-12.82" x2="77.15" y2="-12.82" stroke="#333" stroke-width="0.9"/>
<line x1="14.04" y1="-8.78" x2="77.62" y2="-8.78" stroke="#333" stroke-width="0.9"/>
<line x1="14.76" y1="-4.46" x2="77.90" y2="-4.46" stroke="#333" stroke-width="0.9"/>
<line x1="15.00" y1="0.00" x2="78.00" y2="0.00" stroke="#333" stroke-width="0.9"/>
<line x1="14.76" y1="4.46" x2="77.90" y2="4.46" stroke="#333" stroke-width="0.9"/>
<line x1="14.04" y1="8.78" x2="77.62" y2="8.78" stroke="#333" stroke-width="0.9"/>
<line x1="12.88" y1="12.82" x2="77.15" y2="12.82" stroke="#333" stroke-width="0.9"/>
<line x1="11.30" y1="16.45" x2="76.52" y2="16.45" stroke="#333" stroke-width="0.9"/>
<line x1="9.35" y1="19.55" x2="75.74" y2="19.55" stroke="#333" stroke-width="0.9"/>
<line x1="7.11" y1="22.01" x2="74.84" y2="22.01" stroke="#333" stroke-width="0.9"/>
<line x1="4.64" y1="23.78" x2="73.85" y2="23.78" stroke="#333" stroke-width="0.9"/>
</g>
<g transform="translate(487,640) rotate(-59)"><path d="M72,-25 A6,25 0 0 1 72,25" fill="none" stroke="#444" stroke-width="1.9" stroke-linecap="round" stroke-dasharray="0.01,2.7"/></g>
<ellipse cx="487" cy="640" rx="15" ry="25" transform="rotate(-59 487 640)" fill="#fff" stroke="#333" stroke-width="1"/>
<ellipse cx="487" cy="640" rx="15.9" ry="25.9" transform="rotate(-59 487 640)" fill="none" stroke="#444" stroke-width="2.1" stroke-linecap="round" stroke-dasharray="0.01,2.7"/>
<g stroke="#333" stroke-width="0.9" fill="#fff">
<rect x="587.2" y="551.5" width="11.6" height="6.7"/>
<line x1="589.6" y1="552" x2="589.6" y2="558.2" stroke="#777"/>
<line x1="596.4" y1="552" x2="596.4" y2="558.2" stroke="#777"/>
<rect x="586.2" y="558.2" width="13.4" height="28.3"/>
</g>
<g transform="translate(657.6,643.2) rotate(224.4)">
<path d="M0,-25.5 L83.2,-25.5 A3,25.5 0 0 1 83.2,25.5 L0,25.5 A3.5,25.5 0 0 1 0,-25.5 Z" fill="#fff" stroke="#222" stroke-width="0.9"/>
<line x1="0.87" y1="-24.69" x2="83.95" y2="-24.69" stroke="#444" stroke-width="0.8"/>
<line x1="1.62" y1="-22.59" x2="84.59" y2="-22.59" stroke="#444" stroke-width="0.8"/>
<line x1="1.91" y1="-21.39" x2="84.83" y2="-21.39" stroke="#444" stroke-width="0.8"/>
<line x1="2.29" y1="-19.29" x2="85.16" y2="-19.29" stroke="#444" stroke-width="0.8"/>
<line x1="2.65" y1="-16.67" x2="85.47" y2="-16.67" stroke="#444" stroke-width="0.8"/>
<line x1="2.87" y1="-14.57" x2="85.66" y2="-14.57" stroke="#444" stroke-width="0.8"/>
<line x1="3.17" y1="-10.88" x2="85.91" y2="-10.88" stroke="#444" stroke-width="0.8"/>
<line x1="3.29" y1="-8.78" x2="86.02" y2="-8.78" stroke="#444" stroke-width="0.8"/>
<line x1="3.45" y1="-4.40" x2="86.15" y2="-4.40" stroke="#444" stroke-width="0.8"/>
<line x1="3.49" y1="-2.30" x2="86.19" y2="-2.30" stroke="#444" stroke-width="0.8"/>
<line x1="3.49" y1="2.30" x2="86.19" y2="2.30" stroke="#444" stroke-width="0.8"/>
<line x1="3.45" y1="4.40" x2="86.15" y2="4.40" stroke="#444" stroke-width="0.8"/>
<line x1="3.29" y1="8.78" x2="86.02" y2="8.78" stroke="#444" stroke-width="0.8"/>
<line x1="3.17" y1="10.88" x2="85.91" y2="10.88" stroke="#444" stroke-width="0.8"/>
<line x1="2.87" y1="14.57" x2="85.66" y2="14.57" stroke="#444" stroke-width="0.8"/>
<line x1="2.65" y1="16.67" x2="85.47" y2="16.67" stroke="#444" stroke-width="0.8"/>
<line x1="2.29" y1="19.29" x2="85.16" y2="19.29" stroke="#444" stroke-width="0.8"/>
<line x1="1.91" y1="21.39" x2="84.83" y2="21.39" stroke="#444" stroke-width="0.8"/>
<line x1="1.62" y1="22.59" x2="84.59" y2="22.59" stroke="#444" stroke-width="0.8"/>
<line x1="0.87" y1="24.69" x2="83.95" y2="24.69" stroke="#444" stroke-width="0.8"/>
</g>
<ellipse cx="657.6" cy="643.2" rx="3.5" ry="25.5" transform="rotate(224.4 657.6 643.2)" fill="#fff" stroke="#222" stroke-width="1"/>
<g transform="translate(657.6,643.2) rotate(224.4)"><path d="M83.2,-25.5 A3.5,25.5 0 0 1 83.2,25.5" fill="none" stroke="#444" stroke-width="1.8" stroke-linecap="round" stroke-dasharray="0.01,3.6"/></g>
<g>
<rect x="554.8" y="641.4" width="6.4" height="13.4" rx="1" fill="#111"/>
<path d="M549.5,656 L552,654.4 L564,654.4 L566.2,656 L566.2,660.5 C564,663.5 552,663.5 549.5,660.5 Z" fill="#fff" stroke="#333" stroke-width="0.9"/>
<path d="M552,654.6 L552,661.5 M564,654.6 L564,661.5" stroke="#777" stroke-width="0.7"/>
</g>
<line x1="566.6" y1="654.6" x2="585.6" y2="676.8" stroke="#555" stroke-width="0.9"/>
<g stroke="#333" stroke-width="0.9" fill="none">
<line x1="559.5" y1="691" x2="559.5" y2="716"/>
<line x1="560.3" y1="716" x2="560.4" y2="741.2"/>
<path d="M556.4,691.4 L559.4,681.6 L562.4,691.4 Z" fill="#fff"/>
<path d="M556,709 C548,710.5 542.8,713 542.8,716.5 C542.8,721 550,726.4 560.4,726.4 C567,726.4 573,724.5 576.4,722"/>
<path d="M576,722.6 L579.4,718.6 L579.8,722.8 Z" fill="#fff"/>
</g>
<!-- /LAMP -->

<!-- panel 1 contents -->
<g id="anchor" stroke="#111" stroke-width="0.9" fill="#fff">
<path d="M796,193 L797.8,189.8 L799.2,193 Z M796,203 L797.8,206.2 L799.2,203 Z" fill="#222"/>
<path d="M768,193 L815.5,193 L815.5,203 L768,203 C764.5,203 763.5,200.5 763.8,198 C764,195.5 765,193 768,193 Z" fill="#ccc"/>
<path d="M766,198 L769,193.5 M766,198 L769,202.5" stroke="#333" stroke-width="0.8" fill="none"/>
<path d="M770,193 L770,203 M776.5,193 L776.5,203 M783,193 L783,203 M789.5,193 L789.5,203" stroke="#444" stroke-width="1"/>
<path d="M771,201.5 L775.5,194.5 M777.5,201.5 L782,194.5 M784,201.5 L788.5,194.5 M790.5,201.5 L795,194.5" stroke="#111" stroke-width="1.3"/>
<path d="M766.5,195.2 L797,195.2 M766.5,200.8 L797,200.8" stroke="#fff" stroke-width="0.6"/>
<rect x="799.5" y="194.8" width="12" height="6.4" fill="#fff" stroke="#222" stroke-width="0.9"/>
<path d="M801,196.5 h9 v3.2 h-9 z" fill="#555" stroke="#222" stroke-width="0.5"/>
<path d="M802.5,196.5 v3.2 M805,196.5 v3.2 M807.5,196.5 v3.2" stroke="#ddd" stroke-width="0.6"/>
<line x1="816" y1="191.6" x2="816" y2="204.5" stroke="#111" stroke-width="1.8"/>
<line x1="797.5" y1="193" x2="797.5" y2="203" stroke="#222" stroke-width="1.6"/>
</g>
<text x="792.2" y="218.6" font-size="8.8" fill="#222">x2</text>
<g transform="translate(762.5,224.4) rotate(6.35)">
<path d="M0,0 L4,-1.9 L59.5,-2.4 L59.5,2.4 L4,1.9 Z" fill="#222" stroke="#111" stroke-width="0.6"/>
<path d="M6,-2 v4 M9,-2 v4 M12,-2 v4 M15,-2 v4 M18,-2 v4 M21,-2 v4 M24,-2 v4 M27,-2 v4 M30,-2 v4 M33,-2 v4 M36,-2 v4 M39,-2 v4 M42,-2 v4 M45,-2 v4 M48,-2 v4 M51,-2 v4 M54,-2 v4" stroke="#ddd" stroke-width="0.8"/>
<rect x="58.5" y="-3.4" width="2" height="6.8" fill="#111"/>
</g>
<!-- drill -->
<g id="drill" stroke="#1a1a1a" stroke-width="1" fill="#fff" stroke-linejoin="round">
<path d="M852.5,202.2 L858,203.5 L858,206 L852.5,204.5 Z" fill="#222"/>
<path d="M858,203.6 L867,205 L867,207.6 L858,206 Z"/>
<path d="M866.5,204 C866,206 866,209.5 867,211.5 L871,212.5 L871.5,203 Z"/>
<path d="M870.5,203 C873,201 877,200.6 880,201.2 L880,219 C876,219 872,217 870.8,213 Z"/>
<path d="M879.5,201.3 C882,200.8 885,201 887,203 L887,221.5 C884,222 881.5,220.5 879.5,219 Z"/>
<path d="M886.5,203.3 L895.7,202.6 L928.1,210.5 L929,221.7 L929.9,226.2 L915.5,227.5 L906.5,226.7 L885.8,220.8 Z"/>
<path d="M886.7,206.9 L919.1,213.6 L928.1,211.2 M886.7,211.8 L915,219 M919.1,213.6 L918.5,227 M895.7,202.6 L926,209.5" stroke-width="0.8"/>
<path d="M906.5,226.7 L909.4,232.2 L909.4,241 L919,265 L924.6,270.6 L935,267.4 L929.4,231.4 L929.9,226.2 Z"/>
<path d="M909.4,233.8 L919,235.4 L925.4,240.2 L929.4,238 M920.6,240.2 L924.6,270.6 M926.2,239.4 L932.6,268.2 M918.5,227 L921,232 L925.4,240.2" stroke-width="0.8"/>
<rect x="908.3" y="234.3" width="2.8" height="7.2"/>
<path d="M929.3,234 L931.2,249 L932.8,262" stroke="#999" stroke-width="1.4" fill="none"/>
<g stroke-width="1.3">
<path d="M907,269.6 L915.8,266.2 L933.4,266.6 L939.4,269.6 L924.6,274.8 Z"/>
<path d="M907,269.6 L924.6,274.8 L924.6,297.2 L907,291.4 Z"/>
<path d="M924.6,274.8 L939.4,269.6 L939.4,293.3 L924.6,297.2 Z"/>
</g>
<line x1="926.8" y1="275" x2="926.8" y2="296.8" stroke="#888" stroke-width="1"/>
<line x1="908" y1="271.4" x2="924" y2="276.6" stroke="#777" stroke-width="0.8"/>
<line x1="907.5" y1="289.8" x2="924" y2="295.4" stroke="#777" stroke-width="0.8"/>
</g>

<!-- letters -->
<text x="40.5" y="267.5" font-size="23.5">A</text>
<text x="142.5" y="258" font-size="24.3">OFF</text>
<text x="38" y="812.5" font-size="23.5">C</text>
<text x="142.5" y="801.3" font-size="24.3">ON</text>
<text x="235.9" y="275.8" font-size="48.5">B</text>

<!-- bottom text -->
<text x="657.2" y="793.3" font-size="10.4" textLength="298" lengthAdjust="spacing" stroke="#000" stroke-width="0.18">Instrukcja montażu / instalation instructions / Montageanleitung</text>
<text x="657.5" y="807.9" font-size="10.4" textLength="178" lengthAdjust="spacing" stroke="#000" stroke-width="0.18">Plafon / Ceiling lamp / Deckenleuchte</text>

</svg>
</body></html>
